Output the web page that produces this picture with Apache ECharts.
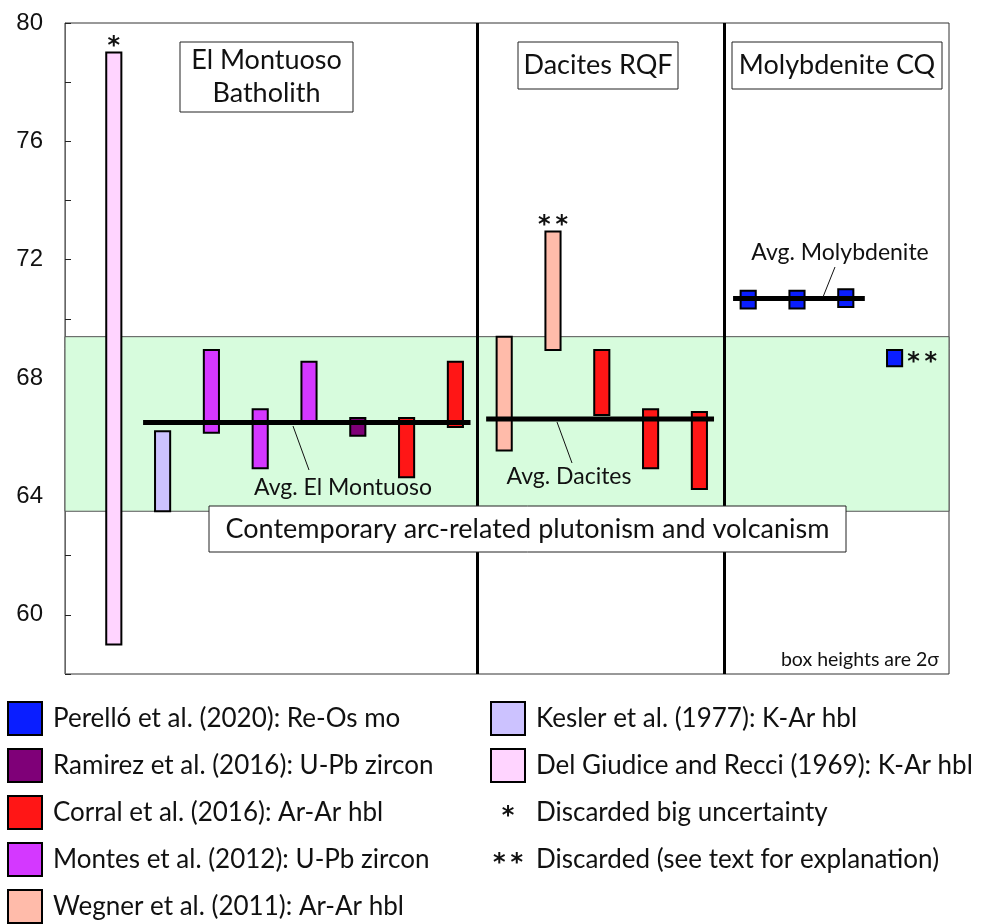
<!DOCTYPE html>
<html>
<head>
<meta charset="utf-8">
<script src="https://cdn.jsdelivr.net/npm/echarts@6/dist/echarts.min.js"></script>
<style>
  html, body { margin: 0; padding: 0; background: #fff; }
  #chart { width: 994px; height: 924px; }
</style>
</head>
<body>
<div id="chart"></div>
<script>
// samples, left to right (slot = position along the hidden x axis)
const sampleSlot = [1, 2, 3, 4, 5, 6, 7, 8, 9, 10, 11, 12, 13, 14, 15, 16, 17];
const sampleSource = ['delgiudice', 'kesler', 'montes', 'montes', 'montes', 'ramirez', 'corral', 'corral',
  'wegner', 'wegner', 'corral', 'corral', 'corral', 'perello', 'perello', 'perello', 'perello'];
const ageLow = [59.0, 63.5, 66.15, 64.95, 66.5, 66.05, 64.65, 66.35, 65.55, 68.95, 66.75, 64.95, 64.25, 70.35, 70.35, 70.4, 68.4];
const ageHigh = [79.0, 66.2, 68.95, 66.95, 68.55, 66.65, 66.65, 68.55, 69.4, 72.95, 68.95, 66.95, 66.85, 70.95, 70.95, 71.0, 68.95];
const sampleFlag = ['*', '', '', '', '', '', '', '', '', '**', '', '', '', '', '', '', '**'];

// group averages
const avgLabel = ['Avg. El Montuoso', 'Avg. Dacites', 'Avg. Molybdenite'];
const avgAge = [66.5, 66.62, 70.69];
const avgStart = [1.6, 8.63, 13.69];
const avgEnd = [8.31, 13.3, 16.39];

// contemporary arc band and section dividers
const bandLow = 63.5;
const bandHigh = 69.4;
const dividerAt = [8.44, 13.5];

const yTicks = [60, 64, 68, 72, 76, 80];

// legend
const sourceKeys = ['perello', 'ramirez', 'corral', 'montes', 'wegner', 'kesler', 'delgiudice'];
const sourceNames = ['Perelló et al. (2020): Re-Os mo', 'Ramirez et al. (2016): U-Pb zircon',
  'Corral et al. (2016): Ar-Ar hbl', 'Montes et al. (2012): U-Pb zircon', 'Wegner et al. (2011): Ar-Ar hbl',
  'Kesler et al. (1977): K-Ar hbl', 'Del Giudice and Recci (1969): K-Ar hbl'];
const flagNames = ['Discarded big uncertainty', 'Discarded (see text for explanation)'];

const colors = {
  perello: '#0A1EFF', ramirez: '#7F0078', corral: '#FF1616', montes: '#D438FF',
  wegner: '#FFBBAA', kesler: '#CCC2FF', delgiudice: '#FFD4FF'
};

const FONT = 'Lato';
const STAR_FONT = 'bold 24px "DejaVu Sans"';
const boxWidth = 0.31;

let chart = echarts.init(document.getElementById('chart'));

const boxData = sampleSlot.map((s, i) => [s, ageLow[i], ageHigh[i], i]);

// stars are drawn with a thin gap between them, like the source figure
const starText = f => f.split('').join('\u2009');

function renderBox(params, api) {
  const i = api.value(3);
  const x = api.value(0);
  const top = api.coord([x, api.value(2)]);
  const bot = api.coord([x, api.value(1)]);
  const w = api.size([boxWidth, 0])[0];
  const children = [{
    type: 'rect',
    shape: { x: top[0] - w / 2, y: top[1], width: w, height: bot[1] - top[1] },
    style: { fill: colors[sampleSource[i]], stroke: '#000', lineWidth: 2 }
  }];
  const flag = sampleFlag[i];
  if (flag) {
    const side = sampleSource[i] === 'perello';
    children.push({
      type: 'text',
      x: side ? top[0] + w / 2 + 5 : top[0],
      y: side ? (top[1] + bot[1]) / 2 + 5 : top[1] + 6,
      style: {
        text: starText(flag), fill: '#111', font: STAR_FONT,
        align: side ? 'left' : 'center', verticalAlign: side ? 'middle' : 'bottom'
      }
    });
  }
  return { type: 'group', children };
}

const avgSeries = avgAge.map((a, k) => ({
  type: 'line',
  data: [[avgStart[k], a], [avgEnd[k], a]],
  symbol: 'none',
  lineStyle: { color: '#000', width: 5 },
  z: 5,
  silent: true
}));

// annotation boxes / texts (pixel layout)
function textBox(x, y, w, h, text, size, lh) {
  return [
    { type: 'rect', z: 100, shape: { x, y, width: w, height: h },
      style: { fill: '#fff', stroke: '#222', lineWidth: 1 } },
    { type: 'text', z: 101, x: x + w / 2, y: y + h / 2,
      style: { text, fill: '#111', font: size + 'px ' + FONT, align: 'center', verticalAlign: 'middle', lineHeight: lh || size * 1.2 } }
  ];
}
function plainText(x, y, text, size, align) {
  return { type: 'text', z: 101, x, y,
    style: { text, fill: '#111', font: size + 'px ' + FONT, align: align || 'center', verticalAlign: 'middle' } };
}
function leader(x1, y1, x2, y2) {
  return { type: 'line', z: 101, shape: { x1, y1, x2, y2 }, style: { stroke: '#111', lineWidth: 1 } };
}

const graphics = [
  ...textBox(180, 42, 173, 70, 'El Montuoso\nBatholith', 27, 33),
  ...textBox(518, 42, 160, 47, 'Dacites RQF', 27),
  ...textBox(732, 42, 210, 47, 'Molybdenite CQ', 27),
  ...textBox(209, 506, 637, 46, 'Contemporary arc-related plutonism and volcanism', 27),
  plainText(343, 488, avgLabel[0], 23),
  plainText(569, 477, avgLabel[1], 23),
  plainText(840, 253, avgLabel[2], 23),
  leader(293, 426, 309, 470),
  leader(557, 422, 572, 463),
  leader(835, 267, 823, 297),
  plainText(939, 660, 'box heights are 2σ', 19.5, 'right')
];

// legend: left column 5 entries, right column 2 entries + 2 flag notes
sourceKeys.forEach((key, k) => {
  const left = k < 5;
  const row = left ? k : k - 5;
  const sx = left ? 8 : 491;
  const cy = 719 + 47 * row;
  graphics.push({ type: 'rect', z: 100, shape: { x: sx, y: cy - 17, width: 34, height: 33 },
    style: { fill: colors[key], stroke: '#000', lineWidth: 2 } });
  graphics.push(plainText(sx + 45, cy, sourceNames[k], 26, 'left'));
});
flagNames.forEach((name, k) => {
  const cy = 719 + 47 * (k + 2);
  graphics.push({ type: 'text', z: 101, x: 508, y: cy + 4,
    style: { text: starText(k === 0 ? '*' : '**'), fill: '#111', font: STAR_FONT, align: 'center', verticalAlign: 'middle' } });
  graphics.push(plainText(536, cy, name, 26, 'left'));
});

chart.setOption({
  animation: false,
  grid: { left: 65, right: 45, top: 23, bottom: 250, show: true, borderColor: '#333', borderWidth: 1, backgroundColor: 'transparent' },
  xAxis: { type: 'value', min: 0, max: 18.115, show: false },
  yAxis: {
    type: 'value', min: 58, max: 80, interval: 2,
    axisLine: { show: true, lineStyle: { color: '#666', width: 1 } },
    axisTick: { show: true, inside: true, length: 6, lineStyle: { color: '#222' } },
    splitLine: { show: false },
    axisLabel: {
      margin: 22, fontSize: 24, color: '#111', fontFamily: 'Liberation Sans',
      formatter: v => (yTicks.indexOf(v) >= 0 ? String(v) : '')
    }
  },
  series: [
    {
      type: 'line', data: [], z: 1, silent: true,
      markArea: {
        silent: true,
        itemStyle: { color: '#D7FCDD', borderColor: '#555', borderWidth: 1 },
        data: [[{ yAxis: bandLow }, { yAxis: bandHigh }]]
      },
      markLine: {
        silent: true, symbol: 'none', label: { show: false },
        lineStyle: { color: '#000', width: 3, type: 'solid' },
        data: dividerAt.map(x => ({ xAxis: x }))
      }
    },
    {
      type: 'custom', renderItem: renderBox, data: boxData, z: 3, silent: true,
      encode: { x: 0, y: [1, 2] }
    },
    ...avgSeries
  ],
  graphic: graphics
});
</script>
</body>
</html>
